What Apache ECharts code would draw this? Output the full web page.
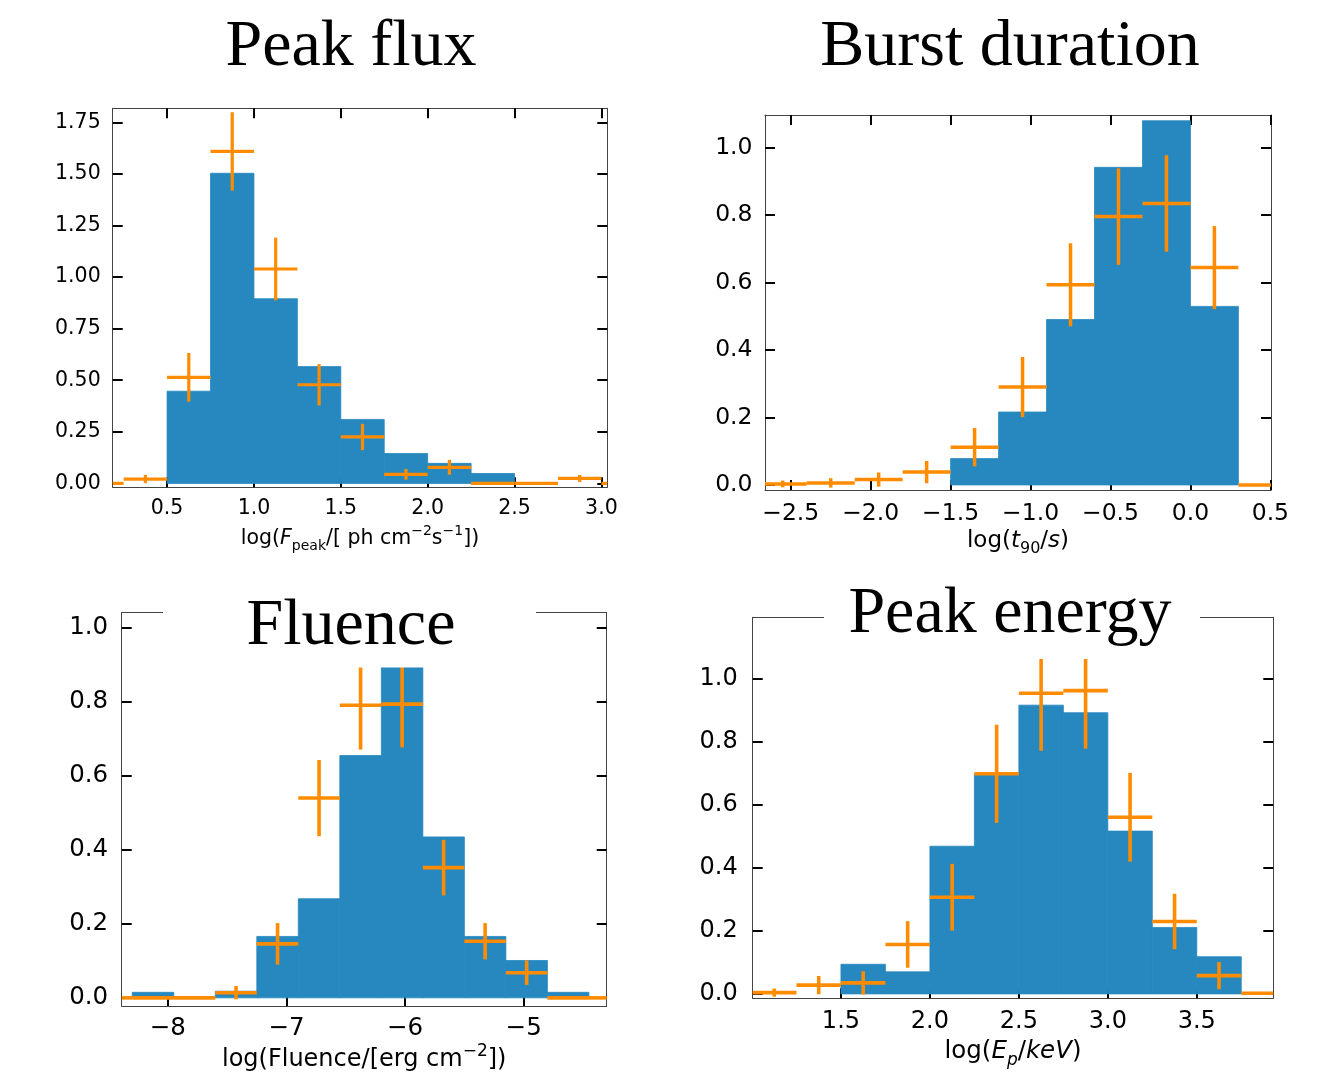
<!DOCTYPE html>
<html>
<head>
<meta charset="utf-8">
<script src="https://cdn.jsdelivr.net/npm/echarts@6/dist/echarts.min.js"></script>
<style>
  html, body { margin: 0; padding: 0; background: #ffffff; }
  #chart { width: 1317px; height: 1076px; }
</style>
</head>
<body>
<div id="chart"></div>
<script>
// ---- Peak flux: log(F_peak) bins, histogram height, points with errors ----
const fluxEdges = [0.0, 0.25, 0.5, 0.75, 1.0, 1.25, 1.5, 1.75, 2.0, 2.25, 2.5, 2.75, 3.0, 3.25];
const fluxHist  = [0, 0, 0.447, 1.503, 0.895, 0.566, 0.310, 0.145, 0.097, 0.048, 0, 0, 0];
const fluxRate  = [0, 0.021, 0.514, 1.609, 1.039, 0.478, 0.225, 0.044, 0.078, 0, 0, 0.024, 0];
const fluxErr   = [0, 0.020, 0.118, 0.190, 0.152, 0.100, 0.064, 0.026, 0.036, 0, 0, 0.017, 0];
const fluxTicksX = [0.5, 1.0, 1.5, 2.0, 2.5, 3.0];
const fluxTicksY = [0, 0.25, 0.5, 0.75, 1.0, 1.25, 1.5, 1.75];

// ---- Burst duration: log(t90) ----
const durEdges = [-2.7, -2.4, -2.1, -1.8, -1.5, -1.2, -0.9, -0.6, -0.3, 0.0, 0.3, 0.6];
const durHist  = [0, 0, 0, 0, 0.078, 0.216, 0.490, 0.941, 1.079, 0.529, 0];
const durRate  = [0.003, 0.006, 0.016, 0.038, 0.112, 0.290, 0.593, 0.795, 0.834, 0.644, 0];
const durErr   = [0.010, 0.014, 0.021, 0.033, 0.057, 0.089, 0.123, 0.143, 0.143, 0.123, 0];
const durTicksX = [-2.5, -2.0, -1.5, -1.0, -0.5, 0.0, 0.5];
const durTicksY = [0, 0.2, 0.4, 0.6, 0.8, 1.0];

// ---- Fluence: log(Fluence) ----
const fluEdges = [-8.65, -8.3, -7.95, -7.6, -7.25, -6.9, -6.55, -6.2, -5.85, -5.5, -5.15, -4.8, -4.45, -4.1];
const fluHist  = [0, 0.015, 0, 0.018, 0.166, 0.268, 0.655, 0.93, 0.435, 0.166, 0.101, 0.015, 0];
const fluRate  = [0, 0, 0, 0.014, 0.146, 0.540, 0.791, 0.794, 0.352, 0.153, 0.068, 0, 0];
const fluErr   = [0, 0, 0, 0.018, 0.056, 0.103, 0.120, 0.117, 0.075, 0.049, 0.033, 0, 0];
const fluTicksX = [-8, -7, -6, -5];
const fluTicksY = [0, 0.2, 0.4, 0.6, 0.8, 1.0];

// ---- Peak energy: log(Ep) ----
const epEdges = [1.0, 1.25, 1.5, 1.75, 2.0, 2.25, 2.5, 2.75, 3.0, 3.25, 3.5, 3.75, 4.0];
const epHist  = [0, 0, 0.094, 0.070, 0.469, 0.699, 0.917, 0.893, 0.517, 0.211, 0.118, 0];
const epRate  = [0.004, 0.028, 0.035, 0.157, 0.307, 0.699, 0.955, 0.963, 0.561, 0.230, 0.058, 0.002];
const epErr   = [0.013, 0.029, 0.037, 0.074, 0.106, 0.156, 0.183, 0.184, 0.141, 0.088, 0.043, 0];
const epTicksX = [1.5, 2.0, 2.5, 3.0, 3.5];
const epTicksY = [0, 0.2, 0.4, 0.6, 0.8, 1.0];

const BLUE = '#2688be';
const ORANGE = '#ff8c00';
const FRAME = '#444444';
const LABEL_FONT = 'DejaVu Sans';
const TITLE_FONT = 'Liberation Serif';

const chart = echarts.init(document.getElementById('chart'), null, { renderer: 'canvas' });

const withMinus = s => s.replace('-', '\u2212');
const fmt = digits => v => withMinus(Number(v).toFixed(digits));

function histData(edges, values) {
  return values.map((v, k) => [edges[k], edges[k + 1], v]);
}
function pointData(edges, rates, errs) {
  return rates.map((v, k) => [(edges[k] + edges[k + 1]) / 2, (edges[k + 1] - edges[k]) / 2, v, errs[k]]);
}

// filled step histogram: one rectangle per bin
function renderHist(params, api) {
  const h = api.value(2);
  if (!(h > 0)) return null;
  const p0 = api.coord([api.value(0), 0]);
  const p1 = api.coord([api.value(1), h]);
  const cs = params.coordSys;
  const shape = echarts.graphic.clipRectByRect(
    { x: p0[0], y: p1[1], width: p1[0] - p0[0], height: p0[1] - p1[1] },
    { x: cs.x, y: cs.y, width: cs.width, height: cs.height }
  );
  if (!shape) return null;
  return { type: 'rect', shape: shape, style: { fill: BLUE, stroke: BLUE, lineWidth: 0.8 } };
}

// crosses: horizontal bar = bin width, vertical bar = error
function makeCrossRenderer(width) {
  return function (params, api) {
    const xc = api.value(0), hw = api.value(1), y = api.value(2), e = api.value(3);
    const cs = params.coordSys;
    const cx = v => Math.max(cs.x, Math.min(cs.x + cs.width, v));
    const cy = v => Math.max(cs.y, Math.min(cs.y + cs.height, v));
    const a = api.coord([xc - hw, y]);
    const b = api.coord([xc + hw, y]);
    const children = [];
    const x1 = cx(a[0]), x2 = cx(b[0]);
    if (x2 > x1) {
      children.push({ type: 'line', shape: { x1: x1, y1: a[1], x2: x2, y2: a[1] },
        style: { stroke: ORANGE, lineWidth: width } });
    }
    const c = api.coord([xc, y]);
    if (e > 0 && c[0] >= cs.x && c[0] <= cs.x + cs.width) {
      const t = api.coord([xc, y + e]), d = api.coord([xc, y - e]);
      children.push({ type: 'line', shape: { x1: c[0], y1: cy(t[1]), x2: c[0], y2: cy(d[1]) },
        style: { stroke: ORANGE, lineWidth: width } });
    }
    return { type: 'group', children: children };
  };
}

// rich-text styles for axis titles with sub/superscripts
function makeRich(f) {
  const base = { fontFamily: LABEL_FONT, color: '#000' };
  const s = Math.round(f * 0.7);
  return {
    n:    Object.assign({ fontSize: f, lineHeight: Math.round(f * 1.4), verticalAlign: 'middle' }, base),
    i:    Object.assign({ fontSize: f, fontStyle: 'italic', lineHeight: Math.round(f * 1.4), verticalAlign: 'middle' }, base),
    sub:  Object.assign({ fontSize: s, lineHeight: Math.round(f * 0.8), verticalAlign: 'bottom' }, base),
    isub: Object.assign({ fontSize: s, fontStyle: 'italic', lineHeight: Math.round(f * 0.8), verticalAlign: 'bottom' }, base),
    sup:  Object.assign({ fontSize: s, lineHeight: Math.round(f * 0.9), verticalAlign: 'top' }, base)
  };
}

const panels = [
  {
    grid: { left: 112.7, top: 108.3, width: 494.6, height: 379 },
    x: [0.187, 3.034], y: [-0.019, 1.818],
    xTicks: fluxTicksX, yTicks: fluxTicksY, xFmt: fmt(1), yFmt: fmt(2),
    font: 20.5, nameFont: 20.5, xMargin: 11, yMargin: 12, nameGap: 37, crossWidth: 3.2,
    name: '{n|log(}{i|F}{sub|peak}{n|/[ ph cm}{sup|\u22122}{n|s}{sup|\u22121}{n|])}',
    edges: fluxEdges, hist: fluxHist, rate: fluxRate, err: fluxErr
  },
  {
    grid: { left: 765, top: 115, width: 506, height: 375 },
    x: [-2.661, 0.504], y: [-0.015, 1.096],
    xTicks: durTicksX, yTicks: durTicksY, xFmt: fmt(1), yFmt: fmt(1),
    font: 23.5, nameFont: 23, xMargin: 11.5, yMargin: 12.5, nameGap: 35, crossWidth: 3.5,
    name: '{n|log(}{i|t}{sub|90}{n|/}{i|s}{n|)}',
    edges: durEdges, hist: durHist, rate: durRate, err: durErr
  },
  {
    grid: { left: 121.7, top: 612.7, width: 485, height: 393.3 },
    x: [-8.389, -4.30], y: [-0.022, 1.041],
    xTicks: fluTicksX, yTicks: fluTicksY, xFmt: fmt(0), yFmt: fmt(1),
    font: 24.5, nameFont: 24, xMargin: 10.5, yMargin: 13.5, nameGap: 37, crossWidth: 3.6,
    name: '{n|log(Fluence/[erg cm}{sup|\u22122}{n|])}',
    edges: fluEdges, hist: fluHist, rate: fluRate, err: fluErr
  },
  {
    grid: { left: 752.7, top: 617.3, width: 520.6, height: 381 },
    x: [1.004, 3.93], y: [-0.014, 1.196],
    xTicks: epTicksX, yTicks: epTicksY, xFmt: fmt(1), yFmt: fmt(1),
    font: 24, nameFont: 24.5, xMargin: 11.5, yMargin: 15, nameGap: 36.5, crossWidth: 3.6,
    name: '{n|log(}{i|E}{isub|p}{n|/}{i|keV}{n|)}',
    edges: epEdges, hist: epHist, rate: epRate, err: epErr
  }
];

const grids = [], xAxes = [], yAxes = [], series = [];

function axis(gridIndex, position, range, ticks, labelFmt, margin, font) {
  const labelled = position === 'bottom' || position === 'left';
  return {
    type: 'value', gridIndex: gridIndex, position: position,
    min: range[0], max: range[1],
    splitLine: { show: false },
    axisLine: { show: true, onZero: false, lineStyle: { color: FRAME, width: 1 } },
    axisTick: { show: true, inside: true, length: 10, customValues: ticks,
      lineStyle: { color: '#000', width: 2 } },
    axisLabel: labelled ? {
      show: true, customValues: ticks, formatter: labelFmt, margin: margin,
      color: '#000', fontFamily: LABEL_FONT, fontSize: font
    } : { show: false }
  };
}

panels.forEach((p, i) => {
  grids.push(Object.assign({ containLabel: false }, p.grid));
  const xb = axis(i, 'bottom', p.x, p.xTicks, p.xFmt, p.xMargin, p.font);
  xb.name = p.name;
  xb.nameLocation = 'middle';
  xb.nameGap = p.nameGap;
  xb.nameTextStyle = { rich: makeRich(p.nameFont) };
  xAxes.push(xb, axis(i, 'top', p.x, p.xTicks, p.xFmt, 0, p.font));
  yAxes.push(axis(i, 'left', p.y, p.yTicks, p.yFmt, p.yMargin, p.font),
             axis(i, 'right', p.y, p.yTicks, p.yFmt, 0, p.font));
  series.push({
    type: 'custom', xAxisIndex: 2 * i, yAxisIndex: 2 * i, z: 2,
    renderItem: renderHist, data: histData(p.edges, p.hist), silent: true
  });
  series.push({
    type: 'custom', xAxisIndex: 2 * i, yAxisIndex: 2 * i, z: 3,
    renderItem: makeCrossRenderer(p.crossWidth), data: pointData(p.edges, p.rate, p.err), silent: true
  });
});

const titleStyle = (text, x, y) => ({
  type: 'text', x: x, y: y, z: 101,
  style: { text: text, fontFamily: TITLE_FONT, fontSize: 66, fill: '#000', align: 'center', verticalAlign: 'middle' }
});

chart.setOption({
  backgroundColor: '#ffffff',
  animation: false,
  grid: grids,
  xAxis: xAxes,
  yAxis: yAxes,
  series: series,
  graphic: [
    titleStyle('Peak flux', 351, 48),
    titleStyle('Burst duration', 1010, 48),
    // lower titles sit on a white plate over the top of their frames
    { type: 'rect', z: 100, shape: { x: 163, y: 575, width: 373, height: 92.6 }, style: { fill: '#ffffff' } },
    titleStyle('Fluence', 351, 627),
    { type: 'rect', z: 100, shape: { x: 824, y: 575, width: 376, height: 84 }, style: { fill: '#ffffff' } },
    titleStyle('Peak energy', 1010, 615)
  ]
});
</script>
</body>
</html>
